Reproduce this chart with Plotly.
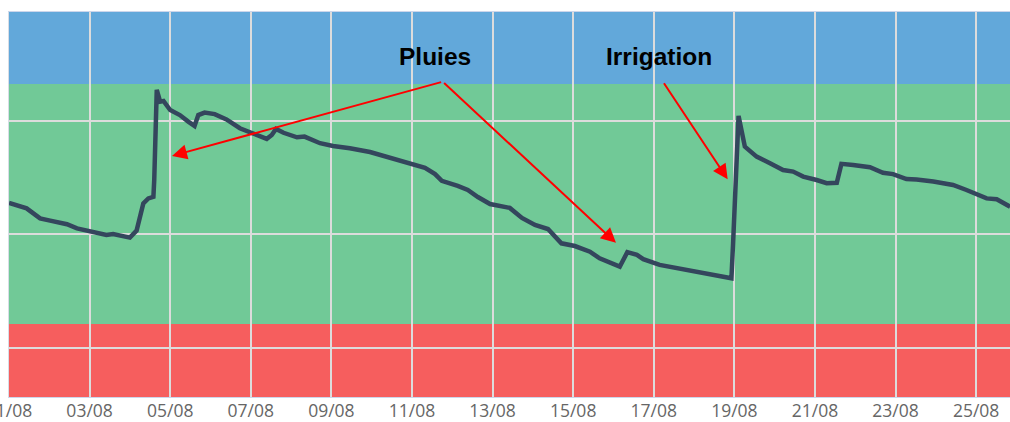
import plotly.graph_objects as go

# ---- data -------------------------------------------------------------
times = [
    "2023-08-01 00:00", "2023-08-01 06:30", "2023-08-01 10:30", "2023-08-01 14:30", "2023-08-01 18:30",
    "2023-08-02 00:30", "2023-08-02 06:30", "2023-08-02 10:30", "2023-08-02 16:30",
    "2023-08-03 00:00", "2023-08-03 10:00", "2023-08-03 14:00", "2023-08-03 18:00",
    "2023-08-04 00:00", "2023-08-04 04:00", "2023-08-04 05:30", "2023-08-04 08:00", "2023-08-04 11:00",
    "2023-08-04 14:00", "2023-08-04 14:30", "2023-08-04 16:00", "2023-08-04 18:00", "2023-08-04 20:00",
    "2023-08-05 00:00", "2023-08-05 05:45", "2023-08-05 10:45", "2023-08-05 14:30", "2023-08-05 16:45",
    "2023-08-05 20:30", "2023-08-06 02:30", "2023-08-06 09:30", "2023-08-06 17:30",
    "2023-08-07 01:30", "2023-08-07 09:30", "2023-08-07 12:30", "2023-08-07 15:00", "2023-08-07 19:30",
    "2023-08-08 03:30", "2023-08-08 08:00", "2023-08-08 17:15",
    "2023-08-09 01:00", "2023-08-09 11:00", "2023-08-09 23:00",
    "2023-08-10 06:45", "2023-08-10 15:30",
    "2023-08-11 00:00", "2023-08-11 07:45", "2023-08-11 13:45", "2023-08-11 17:45",
    "2023-08-12 03:15", "2023-08-12 09:15", "2023-08-12 15:15", "2023-08-12 22:30",
    "2023-08-13 10:15", "2023-08-13 17:30",
    "2023-08-14 01:15", "2023-08-14 09:00", "2023-08-14 17:00",
    "2023-08-15 01:00", "2023-08-15 10:00", "2023-08-15 15:45",
    "2023-08-16 03:45", "2023-08-16 08:15", "2023-08-16 14:00", "2023-08-16 17:45",
    "2023-08-17 03:30", "2023-08-17 13:45", "2023-08-17 21:30",
    "2023-08-18 09:30", "2023-08-18 22:15", "2023-08-18 23:15",
    "2023-08-19 00:15", "2023-08-19 02:30", "2023-08-19 06:15", "2023-08-19 13:15", "2023-08-19 21:15",
    "2023-08-20 05:00", "2023-08-20 11:00", "2023-08-20 17:00",
    "2023-08-21 01:00", "2023-08-21 07:00", "2023-08-21 13:00", "2023-08-21 15:45", "2023-08-21 22:45",
    "2023-08-22 08:45", "2023-08-22 16:30", "2023-08-22 22:30",
    "2023-08-23 06:30", "2023-08-23 12:30", "2023-08-23 22:30",
    "2023-08-24 10:15", "2023-08-24 18:15",
    "2023-08-25 06:15", "2023-08-25 12:15", "2023-08-25 20:15",
]
reserve = [
    113.9, 112.2, 111.5, 109.3, 107.1,
    106.1, 104.9, 104.5, 102.7,
    101.5, 99.8, 100.2, 99.5,
    98.6, 101.7, 106.4, 113.7, 115.9,
    116.6, 124.0, 163.7, 158.5, 158.8,
    154.8, 152.6, 149.7, 147.8, 152.6,
    153.7, 153.0, 150.7, 146.8,
    144.3, 142.1, 143.8, 146.5, 144.8,
    142.8, 143.1, 140.2,
    139.0, 138.0, 136.3,
    134.6, 132.8,
    130.6, 129.3, 126.6, 123.6,
    121.4, 119.6, 116.5, 113.4,
    111.7, 107.3,
    104.2, 102.4, 96.1,
    94.9, 92.4, 89.5,
    85.8, 92.2, 91.0, 89.1,
    86.6, 85.1, 84.1,
    82.6, 80.7, 96.1,
    115.2, 152.2, 138.7, 134.3, 131.4,
    128.4, 127.7, 125.5,
    124.0, 122.6, 122.8, 131.1, 130.6,
    129.6, 127.2, 126.6,
    124.4, 124.2, 123.3,
    121.8, 119.6,
    115.9, 115.5, 112.2,
]

# zone thresholds (same units as reserve)
y_min, y_max = 28.4, 198.0
red_top = 60.6
green_top = 166.3
grid_values = [50, 100, 150]

x_start, x_end = "2023-08-01 00:00", "2023-08-25 20:10"

# annotation anchors (data coordinates)
pluies_label = ("2023-08-11 13:25", 178.2)
irrig_label = ("2023-08-17 03:20", 178.6)
pluies_tail = ("2023-08-11 18:15", 167.3)
irrig_tail = ("2023-08-17 05:30", 167.3)
pluies_tips = [("2023-08-05 01:05", 134.6), ("2023-08-16 01:30", 96.3)]
irrig_tip = ("2023-08-18 20:00", 124.3)

# ---- figure -----------------------------------------------------------
fig = go.Figure()
fig.add_trace(go.Scatter(
    x=times, y=reserve, mode="lines",
    line=dict(color="#34465d", width=4.5),
    hoverinfo="skip", showlegend=False,
))

bands = [
    (y_min, red_top, "#f65e5e"),
    (red_top, green_top, "#71c997"),
    (green_top, y_max, "#62a8da"),
]
for y0, y1, col in bands:
    fig.add_shape(type="rect", xref="paper", yref="y", x0=0, x1=1, y0=y0, y1=y1,
                  fillcolor=col, line=dict(width=0), layer="below")

for (tx, ty) in pluies_tips:
    fig.add_annotation(x=tx, y=ty, xref="x", yref="y", ax=pluies_tail[0], ay=pluies_tail[1],
                       axref="x", ayref="y", text="", showarrow=True, arrowhead=2,
                       arrowsize=1.5, arrowwidth=2, arrowcolor="#ff0000")
fig.add_annotation(x=irrig_tip[0], y=irrig_tip[1], xref="x", yref="y", ax=irrig_tail[0], ay=irrig_tail[1],
                   axref="x", ayref="y", text="", showarrow=True, arrowhead=2,
                   arrowsize=1.5, arrowwidth=2, arrowcolor="#ff0000")

fig.add_annotation(x=pluies_label[0], y=pluies_label[1], xref="x", yref="y", text="<b>Pluies</b>",
                   showarrow=False, font=dict(family="Liberation Sans", size=24.5, color="#000000"))
fig.add_annotation(x=irrig_label[0], y=irrig_label[1], xref="x", yref="y", text="<b>Irrigation</b>",
                   showarrow=False, font=dict(family="Liberation Sans", size=24.5, color="#000000"))

fig.update_layout(
    width=1010, height=422,
    margin=dict(l=9, r=0, t=12, b=25, pad=0, autoexpand=False),
    paper_bgcolor="#ffffff", plot_bgcolor="#ffffff",
    showlegend=False,
    xaxis=dict(
        type="date", range=[x_start, x_end], automargin=False,
        tick0="2023-08-01", dtick=2 * 86400000, tickformat="%d/%m",
        showgrid=True, gridcolor="#dcdcdc", gridwidth=1.5,
        showline=True, linecolor="#ccd6eb", linewidth=1, mirror=True,
        ticks="", ticklabeloverflow="allow", ticklabelstandoff=-2,
        tickfont=dict(family="Open Sans", size=17.5, color="#666666"),
        zeroline=False, fixedrange=True,
    ),
    yaxis=dict(
        range=[y_min, y_max], tickvals=grid_values, showticklabels=False, automargin=False,
        showgrid=True, gridcolor="#dcdcdc", gridwidth=1.5,
        showline=True, linecolor="#d8dde6", linewidth=1,
        ticks="", zeroline=False, fixedrange=True,
    ),
)

fig.write_html(
    "out.html",
    config={"displayModeBar": False},
    post_script="document.body.style.margin='0';document.body.style.overflow='hidden';",
)
